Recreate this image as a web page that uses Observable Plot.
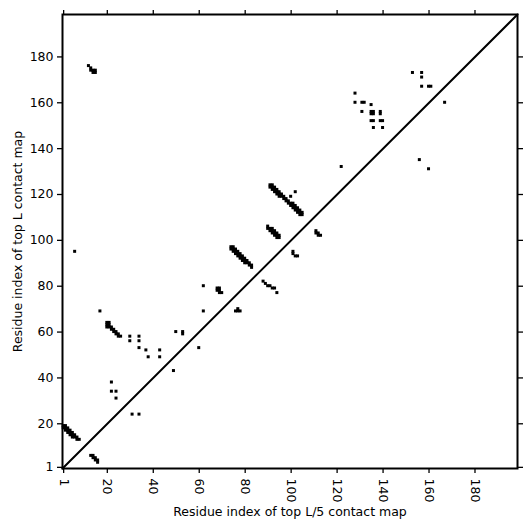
<!DOCTYPE html>
<html>
<head>
<meta charset="utf-8">
<script src="https://cdn.jsdelivr.net/npm/d3@7"></script>
<script src="https://cdn.jsdelivr.net/npm/@observablehq/plot@0.6"></script>
<style>
  html, body { margin: 0; padding: 0; background: white; }
  #chart { width: 531px; height: 531px; }
</style>
</head>
<body>
<div id="chart"></div>
<script>
const L = 198;
const tickValues = [1, 20, 40, 60, 80, 100, 120, 140, 160, 180];
const xLabel = "Residue index of top L/5 contact map";
const yLabel = "Residue index of top L contact map";

// contacts above the diagonal [i, j]
const upperContacts = [
  [12,176],[13,175],[13,174],[14,174],[14,173],[15,173],[15,174],
  [6,95],[17,69],
  [20,64],[20,63],[20,62],[21,64],[21,63],[21,62],[22,62],[22,61],[23,61],[23,60],[24,60],[24,59],[25,59],[25,58],[26,58],
  [30,58],[30,56],[34,58],[34,56],[34,53],[37,52],[38,49],[43,52],[43,49],[50,60],[53,60],[53,59],
  [22,38],[22,34],[24,34],[24,31],
  [1,19],[1,18],[2,19],[2,18],[2,17],[3,18],[3,17],[3,16],[4,17],[4,16],[4,15],[5,16],[5,15],[5,14],[6,15],[6,14],[7,14],[7,13],[8,13],
  [62,80],[68,79],[69,79],[68,78],[69,78],[69,77],[70,77],[62,69],
  [74,97],[74,96],[75,97],[75,96],[75,95],[76,96],[76,95],[76,94],[77,95],[77,94],[77,93],[78,94],[78,93],[78,92],
  [79,93],[79,92],[79,91],[80,92],[80,91],[80,90],[81,91],[81,90],[82,90],[82,89],[83,89],[83,88],
  [90,106],[90,105],[91,105],[91,104],[92,105],[92,104],[92,103],[93,104],[93,103],[93,102],[94,103],[94,102],[94,101],[95,102],[95,101],
  [91,124],[91,123],[92,124],[92,123],[92,122],[93,123],[93,122],[93,121],[94,122],[94,121],[94,120],[95,121],[95,120],[95,119],
  [96,120],[96,119],[97,119],[97,118],[98,118],[98,117],[99,117],[99,116],[100,116],[100,115],
  [101,116],[101,115],[101,114],[102,115],[102,114],[102,113],[103,114],[103,113],[103,112],[104,113],[104,112],[104,111],[105,112],[105,111],
  [102,121],[100,119],
  [122,132],
  [128,164],[128,160],[131,160],[132,160],[135,159],[131,156],[135,156],[136,156],[135,155],[136,155],[139,156],[139,155],[135,152],[136,152],[139,152],[140,152],[136,149],[140,149],
  [153,173],[157,173],[157,171],[157,167],[160,167],[161,167]
];

// contacts below the diagonal [i, j]
const lowerContacts = [
  [13,6],[14,6],[14,5],[15,5],[15,4],[16,4],[16,3],
  [31,24],[34,24],[49,43],[60,53],
  [76,69],[77,69],[78,69],[77,70],
  [88,82],[89,81],[90,80],[91,80],[92,79],[93,79],[94,77],
  [101,95],[101,94],[102,93],[103,93],
  [111,104],[111,103],[112,103],[112,102],[113,102],
  [156,135],[160,131],[167,160]
];

const contacts = [...upperContacts, ...lowerContacts].map(([i, j]) => ({i, j}));
const diagonal = [0.5, L + 0.5];

const chart = Plot.plot({
  width: 531,
  height: 531,
  marginLeft: 62,
  marginRight: 14,
  marginTop: 14,
  marginBottom: 63,
  style: {fontFamily: "DejaVu Sans", fontSize: "12.5px", color: "black", background: "white"},
  x: {domain: [0.5, L + 0.5]},
  y: {domain: [0.5, L + 0.5]},
  marks: [
    Plot.rect(contacts, {
      x1: d => d.i - 0.5, x2: d => d.i + 0.5,
      y1: d => d.j - 0.5, y2: d => d.j + 0.5,
      inset: -0.35, fill: "black"
    }),
    Plot.line(diagonal, {x: d => d, y: d => d, stroke: "black", strokeWidth: 2}),
    Plot.frame({stroke: "black", strokeWidth: 2}),
    Plot.axisX({anchor: "bottom", ticks: tickValues, tickSize: 5, tickPadding: 5, tickRotate: 90,
      textAnchor: "start", lineAnchor: "middle", strokeWidth: 1.3,
      label: xLabel, labelAnchor: "center", labelOffset: 47, labelArrow: "none"}),
    Plot.axisX({anchor: "top", ticks: tickValues, tickSize: 5, tickFormat: () => "", label: null, strokeWidth: 1.3}),
    Plot.axisY({anchor: "left", ticks: tickValues, tickSize: 5, tickPadding: 4, strokeWidth: 1.3,
      label: yLabel, labelAnchor: "center", labelOffset: 49, labelArrow: "none"}),
    Plot.axisY({anchor: "right", ticks: tickValues, tickSize: 5, tickFormat: () => "", label: null, strokeWidth: 1.3})
  ]
});
document.getElementById("chart").appendChild(chart);
</script>
</body>
</html>
